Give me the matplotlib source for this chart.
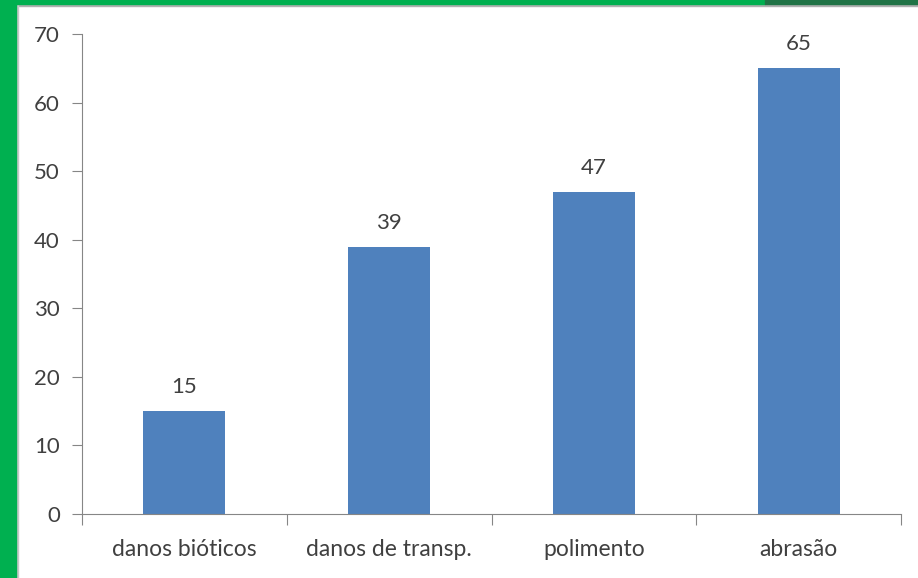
import numpy as np
import matplotlib.pyplot as plt
from matplotlib.patches import Rectangle

categories = ["danos bióticos", "danos de transp.", "polimento", "abrasão"]
values = [15, 39, 47, 65]
yticks = [0, 10, 20, 30, 40, 50, 60, 70]

bar_color = "#4F81BD"
axis_color = "#868686"
text_color = "#404040"

plt.rcParams["font.family"] = ["Lato", "DejaVu Sans"]

fig = plt.figure(figsize=(9.18, 5.78), dpi=100)
fig.patch.set_facecolor("white")

# green frame on the left and top
fig.add_artist(Rectangle((0, 0), 16 / 918, 1, transform=fig.transFigure,
                         color="#00B050", zorder=5))
fig.add_artist(Rectangle((0, 1 - 4 / 578), 765 / 918, 4 / 578, transform=fig.transFigure,
                         color="#00B050", zorder=5))
fig.add_artist(Rectangle((765 / 918, 1 - 4 / 578), 1, 4 / 578, transform=fig.transFigure,
                         color="#217346", zorder=5))
fig.add_artist(Rectangle((16 / 918, 1 - 6 / 578), 1, 2 / 578, transform=fig.transFigure,
                         color="#b0b0b0", zorder=4))
fig.add_artist(Rectangle((16 / 918, 0), 2 / 918, 1, transform=fig.transFigure,
                         color="#c8c8c8", zorder=4))

ax = fig.add_axes([82 / 918, 64 / 578, 819 / 918, 480 / 578])
x = np.arange(len(categories))
bars = ax.bar(x, values, width=0.4, color=bar_color, zorder=2)
ax.bar_label(bars, labels=[str(v) for v in values], padding=10,
             fontsize=16, color=text_color)

ax.set_xlim(-0.5, len(categories) - 0.5)
ax.set_ylim(0, 70)
ax.set_yticks(yticks)
ax.set_yticklabels([str(t) for t in yticks], fontsize=16, color=text_color)

ax.set_xticks(np.arange(len(categories) + 1) - 0.5)
ax.set_xticklabels([])
ax.set_xticks(x, minor=True)
ax.set_xticklabels(categories, minor=True, fontsize=16.5, color=text_color)
ax.tick_params(axis="x", which="major", length=8, color=axis_color, direction="out")
ax.tick_params(axis="x", which="minor", length=0, pad=18)
ax.tick_params(axis="y", length=7, color=axis_color, pad=9)

for side in ["top", "right"]:
    ax.spines[side].set_visible(False)
ax.spines["left"].set_color(axis_color)
ax.spines["bottom"].set_color(axis_color)

fig.savefig("out.png", dpi=100)
